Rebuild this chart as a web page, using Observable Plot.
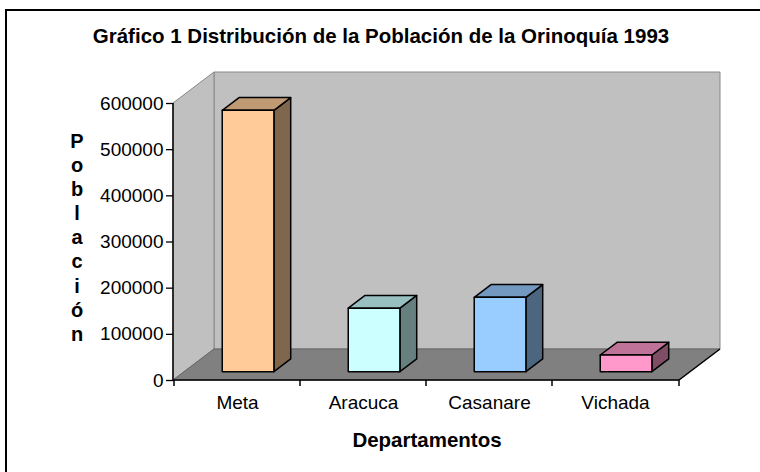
<!DOCTYPE html>
<html>
<head>
<meta charset="utf-8">
<script src="https://cdn.jsdelivr.net/npm/d3@7"></script>
<script src="https://cdn.jsdelivr.net/npm/@observablehq/plot@0.6"></script>
<style>
  html, body { margin: 0; padding: 0; background: #fff; }
  #wrap { position: relative; width: 760px; height: 472px; overflow: hidden;
          font-family: "Liberation Sans", Arial, sans-serif; color: #000; }
  #border { position: absolute; left: 5px; top: 9px; width: 820px; height: 520px;
            border: 2px solid #000; box-sizing: border-box; }
  #title { position: absolute; left: 0; top: 25px; width: 762px; text-align: center;
           font-weight: bold; font-size: 20.5px; line-height: 22px; white-space: nowrap; }
  #ylabel { position: absolute; left: 65px; top: 129px; width: 24px; text-align: center;
            font-weight: bold; font-size: 20px; line-height: 24.1px; }
  #ylabel span { display: block; }
  #xlabel { position: absolute; left: 300px; width: 254px; top: 429px; text-align: center;
            font-weight: bold; font-size: 20.5px; line-height: 22px; }
  #chart { position: absolute; left: 0; top: 0; }
</style>
</head>
<body>
<div id="wrap">
  <div id="border"></div>
  <div id="chart"></div>
  <div id="title"></div>
  <div id="ylabel"></div>
  <div id="xlabel"></div>
</div>
<script>
// ---- data ----
const titulo = "Gráfico 1 Distribución de la Población de la Orinoquía 1993";
const ejeY = "Población";
const ejeX = "Departamentos";
const departamentos = ["Meta", "Aracuca", "Casanare", "Vichada"];
const poblacion = [566000, 137500, 161000, 36000];
const yTicks = [0, 100000, 200000, 300000, 400000, 500000, 600000];
const colorFrente = ["#FFCC99", "#CCFFFF", "#99CCFF", "#FF99CC"];
const colorTapa   = ["#C09A73", "#99C0C0", "#7399C0", "#C07399"];
const colorLado   = ["#80664D", "#668080", "#4D6680", "#804D66"];

const rows = departamentos.map((d, i) => ({
  departamento: d, poblacion: poblacion[i],
  frente: colorFrente[i], tapa: colorTapa[i], lado: colorLado[i]
}));

// 3D depth vector (pixels) and bar depth fractions
const DX = 41, DY = -31;
const F0 = 0.27, F1 = 0.68;
const PAD_IN = 0.59, PAD_OUT = 0.295;

const svgNS = "http://www.w3.org/2000/svg";
function poly(g, pts, fill, stroke, sw) {
  const p = document.createElementNS(svgNS, "polygon");
  p.setAttribute("points", pts.map(q => q.join(",")).join(" "));
  p.setAttribute("fill", fill);
  p.setAttribute("stroke", stroke);
  p.setAttribute("stroke-width", sw);
  p.setAttribute("stroke-linejoin", "round");
  g.appendChild(p);
}
function line(g, x1, y1, x2, y2, stroke, sw) {
  const l = document.createElementNS(svgNS, "line");
  l.setAttribute("x1", x1); l.setAttribute("y1", y1);
  l.setAttribute("x2", x2); l.setAttribute("y2", y2);
  l.setAttribute("stroke", stroke); l.setAttribute("stroke-width", sw);
  g.appendChild(l);
}

// band geometry from the Plot x scale (center + width of each band)
function bandGeom(xs) {
  const step = xs(departamentos[1]) - xs(departamentos[0]);
  let bw = typeof xs.bandwidth === "function" ? xs.bandwidth() : (+xs.bandwidth || 0);
  let centerShift = bw > 0 ? bw / 2 : 0;
  if (!(bw > 0)) bw = step * (1 - PAD_IN);
  return { step, bw, center: d => xs(d) + centerShift };
}

// walls & floor, built from the scales
function paredes(index, scales) {
  const g = document.createElementNS(svgNS, "g");
  const [x0, x1] = scales.x.range();
  const y0 = scales.y(yTicks[0]);
  const yT = scales.y(yTicks[yTicks.length - 1]);
  // back wall
  poly(g, [[x0 + DX, yT + DY], [x1 + DX, yT + DY], [x1 + DX, y0 + DY], [x0 + DX, y0 + DY]], "#C0C0C0", "#888888", 1);
  // left wall
  poly(g, [[x0, yT], [x0 + DX, yT + DY], [x0 + DX, y0 + DY], [x0, y0]], "#C0C0C0", "#888888", 1);
  // floor
  poly(g, [[x0, y0], [x1, y0], [x1 + DX, y0 + DY], [x0 + DX, y0 + DY]], "#808080", "#666666", 1);
  // floor right edge
  line(g, x1, y0, x1 + DX, y0 + DY, "#000", 1.5);
  // axes
  line(g, x0, yT, x0, y0, "#000", 1.5);
  line(g, x0, y0, x1, y0, "#000", 1.5);
  // category boundary ticks on x axis
  const { step, center } = bandGeom(scales.x);
  departamentos.forEach(d => {
    const b = center(d) - step / 2;
    line(g, b, y0, b, y0 + 6, "#000", 1.5);
  });
  line(g, x1, y0, x1, y0 + 6, "#000", 1.5);
  return g;
}

// 3D bars
function barras(index, scales) {
  const g = document.createElementNS(svgNS, "g");
  const ys = scales.y;
  const { bw, center } = bandGeom(scales.x);
  const y0 = ys(0);
  rows.forEach(r => {
    const xl = center(r.departamento) - bw / 2, xr = xl + bw, yv = ys(r.poblacion);
    const ax = F0 * DX, ay = F0 * DY, bx = F1 * DX, by = F1 * DY;
    // side
    poly(g, [[xr + ax, yv + ay], [xr + bx, yv + by], [xr + bx, y0 + by], [xr + ax, y0 + ay]], r.lado, "#000", 1.5);
    // top
    poly(g, [[xl + ax, yv + ay], [xr + ax, yv + ay], [xr + bx, yv + by], [xl + bx, yv + by]], r.tapa, "#000", 1.5);
    // front
    poly(g, [[xl + ax, yv + ay], [xr + ax, yv + ay], [xr + ax, y0 + ay], [xl + ax, y0 + ay]], r.frente, "#000", 1.5);
  });
  return g;
}

const chart = Plot.plot({
  width: 760,
  height: 472,
  marginLeft: 173,
  marginRight: 81,
  marginTop: 103,
  marginBottom: 92,
  style: { fontFamily: "'Liberation Sans', Arial, sans-serif", fontSize: "19px", color: "#000", background: "transparent", overflow: "visible" },
  x: { domain: departamentos, paddingInner: PAD_IN, paddingOuter: PAD_OUT, axis: null },
  y: { domain: [0, 600000], axis: null },
  marks: [
    paredes,
    barras,
    Plot.axisY(yTicks, { tickSize: 7, tickPadding: 3, tickFormat: d3.format("d"), fontSize: 19, stroke: "#000", strokeWidth: 1.3, strokeOpacity: 1 }),
    Plot.axisX(departamentos, { tickSize: 0, tickPadding: 15, fontSize: 19 })
  ]
});
document.getElementById("chart").appendChild(chart);

document.getElementById("title").textContent = titulo;
const yl = document.getElementById("ylabel");
for (const ch of ejeY) { const s = document.createElement("span"); s.textContent = ch; yl.appendChild(s); }
document.getElementById("xlabel").textContent = ejeX;
</script>
</body>
</html>
